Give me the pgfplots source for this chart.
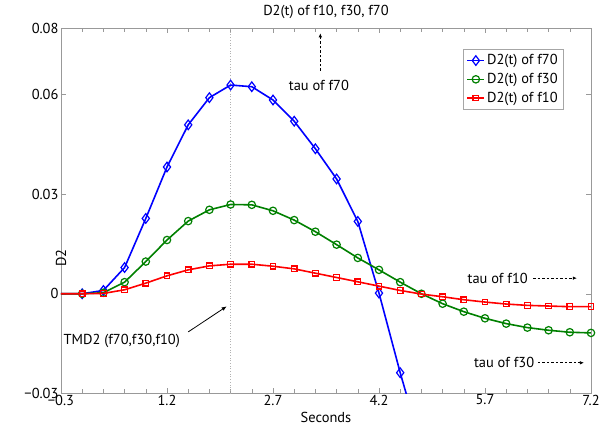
\documentclass[border=0pt]{standalone}
\usepackage{fontspec}
\setmainfont{PT Sans}
\usepackage{pgfplots}
\pgfplotsset{compat=1.18}
\usetikzlibrary{arrows.meta}
\definecolor{mblue}{RGB}{0,0,255}
\definecolor{mgreen}{RGB}{0,128,0}
\definecolor{mred}{RGB}{255,0,0}
\begin{document}
\begin{tikzpicture}[font=\fontsize{14.5}{16}\selectfont]
\begin{axis}[
  at={(0,0)}, anchor=south west,
  scale only axis, width=530bp, height=365bp,
  xmin=-0.3, xmax=7.2, ymin=-0.03, ymax=0.08,
  scaled y ticks=false, scaled x ticks=false,
  xtick={-0.3,1.2,2.7,4.2,5.7,7.2},
  xticklabels={−0.3,1.2,2.7,4.2,5.7,7.2},
  minor x tick num=4,
  ytick={-0.03,0,0.03,0.06,0.08},
  yticklabels={−0.03,0,0.03,0.06,0.08},
  tick align=inside,
  major tick length=5bp, minor tick length=4bp,
  axis line style={draw=gray!80},
  every tick/.style={draw=gray!80, line width=0.5bp},
  tick label style={font=\fontsize{14.5}{16}\selectfont},
  xticklabel style={yshift=2bp},
  yticklabel style={xshift=1bp},
  title={D2(t) of f10, f30, f70},
  title style={at={(axis description cs:0.5,1)}, anchor=center, yshift=10bp},
  xlabel={Seconds},
  xlabel style={at={(axis description cs:0.5,0)}, anchor=center, yshift=-24bp},
  ylabel={D2},
  ylabel style={at={(axis description cs:0,0.5)}, anchor=center, xshift=-47bp},
  clip mode=individual,
  legend style={at={(0.947,0.942)}, anchor=north east, draw=gray!70,
    inner sep=3bp, row sep=3bp, font=\fontsize{14.5}{16}\selectfont},
  legend image post style={mark indices={2}},
  legend cell align=left,
]
\addplot[gray!60, dotted, line width=0.7bp, forget plot] coordinates {(2.1,-0.03) (2.1,0.08)};

\addplot[color=mblue, line width=1.6bp, mark=diamond, mark size=4.8bp,
  mark options={line width=1.2bp, fill=none, solid},
  mark indices={1,2,3,4,5,6,7,8,9,10,11,12,13,14,15,16}] coordinates {
(-0.6,0) (0,0) (0.3,0.0010) (0.6,0.0079) (0.9,0.0227) (1.2,0.0382) (1.5,0.0509)
(1.8,0.0591) (2.1,0.0629) (2.4,0.0624) (2.7,0.0584) (3.0,0.0520) (3.3,0.0437)
(3.6,0.0346) (3.9,0.0218) (4.2,0.0002) (4.5,-0.0238) (4.8,-0.046)
};
\addlegendentry{D2(t) of f70}

\addplot[color=mgreen, line width=1.6bp, mark=o, mark size=3.7bp,
  mark options={line width=1.2bp, fill=none, solid},
  mark indices={1,2,3,4,5,6,7,8,9,10,11,12,13,14,15,16,17,18,19,20,21,22,23,24,25}] coordinates {
(-0.6,0) (0,0) (0.3,0.0003) (0.6,0.0035) (0.9,0.0097) (1.2,0.0162) (1.5,0.0219)
(1.8,0.0253) (2.1,0.0269) (2.4,0.0268) (2.7,0.0250) (3.0,0.0222) (3.3,0.0187)
(3.6,0.0148) (3.9,0.0108) (4.2,0.0072) (4.5,0.0035) (4.8,0.0000) (5.1,-0.0030)
(5.4,-0.0054) (5.7,-0.0074) (6.0,-0.0090) (6.3,-0.0102) (6.6,-0.0110)
(6.9,-0.0116) (7.2,-0.0118)
};
\addlegendentry{D2(t) of f30}

\addplot[color=mred, line width=1.6bp, mark=square, mark size=2.8bp,
  mark options={line width=1.2bp, fill=none, solid},
  mark indices={1,2,3,4,5,6,7,8,9,10,11,12,13,14,15,16,17,18,19,20,21,22,23,24,25}] coordinates {
(-0.6,0) (0,0) (0.3,0.0001) (0.6,0.0012) (0.9,0.0032) (1.2,0.0054) (1.5,0.0072)
(1.8,0.0084) (2.1,0.0089) (2.4,0.0089) (2.7,0.0083) (3.0,0.0075) (3.3,0.0062)
(3.6,0.0049) (3.9,0.0036) (4.2,0.0023) (4.5,0.0010) (4.8,-0.0001) (5.1,-0.0009)
(5.4,-0.0018) (5.7,-0.0025) (6.0,-0.0031) (6.3,-0.0035) (6.6,-0.0037)
(6.9,-0.0039) (7.2,-0.0039)
};
\addlegendentry{D2(t) of f10}

% annotations
\node at (axis cs:3.35,0.0629) {tau of f70};
\draw[black, line width=0.7bp, dash pattern=on 2.5bp off 2bp, -{Latex[length=4bp,width=3.5bp]}]
  (axis cs:3.37,0.0672) -- (axis cs:3.37,0.0785);
\node at (axis cs:5.88,0.0047) {tau of f10};
\draw[black, line width=0.7bp, dash pattern=on 2.5bp off 2bp, -{Latex[length=4bp,width=3.5bp]}]
  (axis cs:6.38,0.0047) -- (axis cs:7.0,0.0047);
\node at (axis cs:5.97,-0.0208) {tau of f30};
\draw[black, line width=0.7bp, dash pattern=on 2.5bp off 2bp, -{Latex[length=4bp,width=3.5bp]}]
  (axis cs:6.45,-0.0208) -- (axis cs:7.1,-0.0208);
\node at (axis cs:0.56,-0.0143) {TMD2 (f70,f30,f10)};
\draw[black, line width=0.8bp, -{Latex[length=5bp,width=4bp]}]
  (axis cs:1.50,-0.0115) -- (axis cs:2.045,-0.0038);
\end{axis}
\pgfresetboundingbox
\path[use as bounding box] (-61bp,-35.7bp) rectangle (539bp,393.3bp);
\end{tikzpicture}
\end{document}
